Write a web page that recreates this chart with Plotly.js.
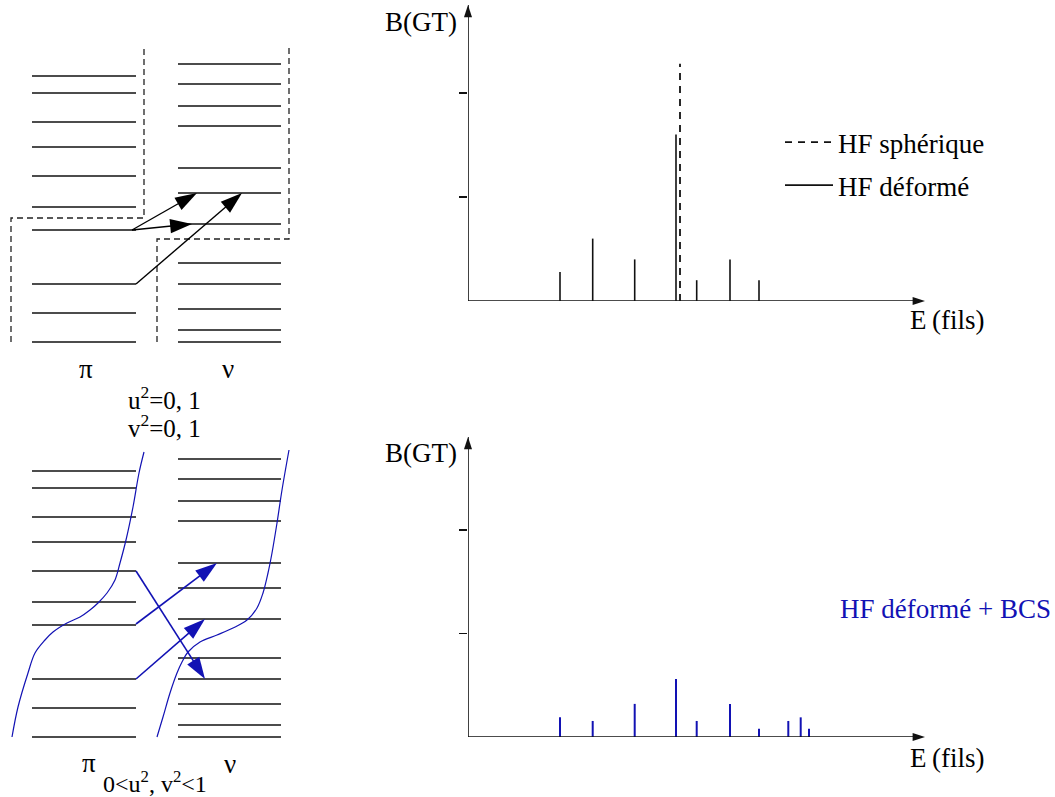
<!DOCTYPE html>
<html><head><meta charset="utf-8">
<script src="https://cdn.plot.ly/plotly-3.0.1.min.js"></script>
<style>html,body{margin:0;padding:0;background:#fff;}#chart{width:1055px;height:797px;}</style>
</head><body><div id="chart"></div>
<script>
// ---------- Gamow-Teller strength B(GT) vs daughter energy E (arbitrary units) ----------
const energiesHFdeformed = [9.2, 12.47, 16.67, 20.8, 22.87, 26.2, 29.1];
const strengthHFdeformed = [0.28, 0.60, 0.40, 1.60, 0.20, 0.40, 0.20];
const energiesHFspherical = [21.2];
const strengthHFspherical = [2.28];
const energiesBCS = [9.2, 12.47, 16.67, 20.8, 22.87, 26.2, 29.1, 32.03, 33.27, 34.1];
const strengthBCS = [0.19, 0.155, 0.32, 0.56, 0.155, 0.32, 0.08, 0.155, 0.19, 0.08];
const strengthTicks = [1, 2];

// ---------- single-particle level schemes (arbitrary energy units) ----------
const protonLevels = [8, 37, 66, 120, 143, 174, 203, 228, 257, 274];
const neutronLevels = [8, 20, 41, 66, 87, 126, 157, 182, 224, 244, 266, 286];
// sharp HF Fermi surfaces (dashed)
const protonFermiX = [11, 11, 144, 144];
const protonFermiE = [8, 132, 132, 302];
const neutronFermiX = [157, 157, 289, 289];
const neutronFermiE = [8, 111, 111, 302];
// HF transitions (proton level -> neutron level)
const hfTransFrom = [120, 120, 66];
const hfTransTo = [157, 126, 157];
const hfTransStartX = [132, 132, 136];
const hfTransTipX = [197, 192, 242];
// BCS transitions
const bcsTransFrom = [174, 121, 66];
const bcsTransTo = [66, 182, 126];
const bcsTransStartX = [136, 136, 136];
const bcsTransTipX = [205, 217, 205];
// BCS occupation curves
const protonOccX = [12, 18, 28, 35, 45, 53, 67, 80, 90, 98, 107, 115, 120, 126, 133, 139, 144];
const protonOccE = [8, 38, 72, 92, 105, 113, 122, 128, 135, 142, 152, 165, 182, 205, 238, 272, 293];
const neutronOccX = [157, 163, 170, 177, 182, 188, 200, 217, 233, 247, 257, 263, 268, 272, 277, 282, 289];
const neutronOccE = [8, 28, 52, 72, 83, 93, 103, 110, 117, 125, 137, 152, 172, 192, 222, 255, 295];

// ---------- styling ----------
const FONT = 'Liberation Serif, Times New Roman, serif';
const BLUE = '#1212b4';
const BLACK = '#111';
const W = 1055, H = 797;
const px = x => x / W, py = y => 1 - y / H;

function stems(xs, ys) {
  const X = [], Y = [];
  xs.forEach((x, i) => { X.push(x, x, null); Y.push(0, ys[i], null); });
  return {X, Y};
}
function levels(L, x0, x1) {
  const X = [], Y = [];
  L.forEach(e => { X.push(x0, x1, null); Y.push(e, e, null); });
  return {X, Y};
}
function arrowTrace(x0, y0, x1, y1, xa, ya, color, width, size) {
  return {x: [x0, x1], y: [y0, y1], xaxis: xa, yaxis: ya, mode: 'lines+markers',
    line: {color: color, width: width}, cliponaxis: false, showlegend: false, hoverinfo: 'skip',
    marker: {symbol: 'arrow', angleref: 'previous', size: [0, size], opacity: 1, color: color, line: {width: 0}}};
}

const traces = [];
// legend traces first
const sSph = stems(energiesHFspherical, strengthHFspherical);
traces.push({x: sSph.X, y: sSph.Y, xaxis: 'x', yaxis: 'y', mode: 'lines', name: 'HF sphérique', legendgroup: 'sph',
  line: {color: BLACK, width: 1.8, dash: '7px,6px'}, hoverinfo: 'skip'});
const sDef = stems(energiesHFdeformed, strengthHFdeformed);
traces.push({x: sDef.X, y: sDef.Y, xaxis: 'x', yaxis: 'y', mode: 'lines', name: 'HF déformé', legendgroup: 'def',
  line: {color: BLACK, width: 1.6}, hoverinfo: 'skip'});
const sBCS = stems(energiesBCS, strengthBCS);
traces.push({x: sBCS.X, y: sBCS.Y, xaxis: 'x2', yaxis: 'y2', mode: 'lines', name: 'HF déformé + BCS',
  line: {color: BLUE, width: 2}, showlegend: false, hoverinfo: 'skip'});

// axes of the spectra (with arrow heads)
const XMAX = 45.7, YMAX1 = 2.846, YMAX2 = 2.899;
traces.push(arrowTrace(0, 0, XMAX, 0, 'x', 'y', BLACK, 1.6, 13));
traces.push(arrowTrace(0, 0, 0, YMAX1, 'x', 'y', BLACK, 1.6, 13));
traces.push(arrowTrace(0, 0, XMAX, 0, 'x2', 'y2', BLACK, 1.6, 13));
traces.push(arrowTrace(0, 0, 0, YMAX2, 'x2', 'y2', BLACK, 1.6, 13));

// level schemes, both panels
[['x3', 'y3'], ['x4', 'y4']].forEach(([xa, ya]) => {
  const p = levels(protonLevels, 32, 136), n = levels(neutronLevels, 178, 281);
  traces.push({x: p.X, y: p.Y, xaxis: xa, yaxis: ya, mode: 'lines', line: {color: BLACK, width: 1.7}, showlegend: false, hoverinfo: 'skip', cliponaxis: false});
  traces.push({x: n.X, y: n.Y, xaxis: xa, yaxis: ya, mode: 'lines', line: {color: BLACK, width: 1.7}, showlegend: false, hoverinfo: 'skip', cliponaxis: false});
});
// HF Fermi surfaces
traces.push({x: protonFermiX, y: protonFermiE, xaxis: 'x3', yaxis: 'y3', mode: 'lines', line: {color: '#222', width: 1.3, dash: '6px,4px'}, showlegend: false, hoverinfo: 'skip'});
traces.push({x: neutronFermiX, y: neutronFermiE, xaxis: 'x3', yaxis: 'y3', mode: 'lines', line: {color: '#222', width: 1.3, dash: '6px,4px'}, showlegend: false, hoverinfo: 'skip'});
// HF transitions
hfTransFrom.forEach((e0, i) => traces.push(arrowTrace(hfTransStartX[i], e0, hfTransTipX[i], hfTransTo[i], 'x3', 'y3', '#000', 1.4, 23)));
// BCS occupation curves
traces.push({x: protonOccX, y: protonOccE, xaxis: 'x4', yaxis: 'y4', mode: 'lines', line: {color: BLUE, width: 1.2, shape: 'spline'}, showlegend: false, hoverinfo: 'skip'});
traces.push({x: neutronOccX, y: neutronOccE, xaxis: 'x4', yaxis: 'y4', mode: 'lines', line: {color: BLUE, width: 1.2, shape: 'spline'}, showlegend: false, hoverinfo: 'skip'});
// BCS transitions
bcsTransFrom.forEach((e0, i) => traces.push(arrowTrace(bcsTransStartX[i], e0, bcsTransTipX[i], bcsTransTo[i], 'x4', 'y4', BLUE, 1.6, 23)));

const hidden = {showgrid: false, zeroline: false, showticklabels: false, showline: false, ticks: '', fixedrange: true};
const yTicks = {showgrid: false, zeroline: false, showticklabels: false, showline: false, fixedrange: true,
  ticks: 'outside', tickvals: strengthTicks, ticklen: 8, tickwidth: 1.5, tickcolor: BLACK};

const ann = (text, x, y, xanchor, size, color) => ({text: text, x: px(x), y: py(y), xref: 'paper', yref: 'paper',
  xanchor: xanchor || 'center', yanchor: 'middle', showarrow: false, font: {family: FONT, size: size || 27, color: color || '#000'}});

const layout = {
  width: W, height: H, margin: {l: 0, r: 0, t: 0, b: 0}, paper_bgcolor: '#fff', plot_bgcolor: 'rgba(0,0,0,0)',
  font: {family: FONT, color: '#000'},
  xaxis: Object.assign({}, hidden, {domain: [px(468), px(925)], range: [0, XMAX], anchor: 'y'}),
  yaxis: Object.assign({}, yTicks, {domain: [py(301), py(5)], range: [0, YMAX1], anchor: 'x'}),
  xaxis2: Object.assign({}, hidden, {domain: [px(468), px(925)], range: [0, XMAX], anchor: 'y2'}),
  yaxis2: Object.assign({}, yTicks, {domain: [py(737), py(437)], range: [0, YMAX2], anchor: 'x2'}),
  xaxis3: Object.assign({}, hidden, {domain: [0, px(300)], range: [0, 300], anchor: 'y3'}),
  yaxis3: Object.assign({}, hidden, {domain: [py(350), py(40)], range: [0, 310], anchor: 'x3'}),
  xaxis4: Object.assign({}, hidden, {domain: [0, px(300)], range: [0, 300], anchor: 'y4'}),
  yaxis4: Object.assign({}, hidden, {domain: [py(745), py(440)], range: [0, 305], anchor: 'x4'}),
  showlegend: true,
  legend: {x: px(780), y: py(118), xanchor: 'left', yanchor: 'top', bgcolor: 'rgba(0,0,0,0)', borderwidth: 0,
    font: {family: FONT, size: 27, color: '#000'}, itemwidth: 48, traceorder: 'grouped', tracegroupgap: 5},
  annotations: [
    ann('B(GT)', 459, 22, 'right'),
    ann('E\u2009(fils)', 908, 320, 'left'),
    ann('B(GT)', 459, 453, 'right'),
    ann('E\u2009(fils)', 908, 758, 'left'),
    ann('HF déformé + BCS', 838, 609, 'left', 27, BLUE),
    ann('π', 86, 369),
    ann('ν', 228, 369),
    ann('u<sup>2</sup>=0, 1', 164, 398, 'center', 25),
    ann('v<sup>2</sup>=0, 1', 164, 426, 'center', 25),
    ann('π', 89, 763),
    ann('ν', 230, 764),
    ann('0&lt;u<sup>2</sup>, v<sup>2</sup>&lt;1', 155, 782, 'center', 24)
  ]
};

Plotly.newPlot('chart', traces, layout, {staticPlot: true, displayModeBar: false});
</script>
</body></html>
